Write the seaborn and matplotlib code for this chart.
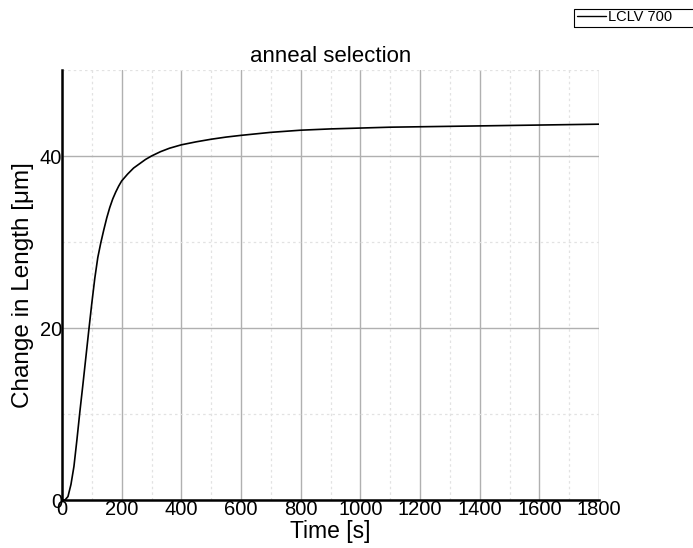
import matplotlib
matplotlib.use("Agg")
import matplotlib.pyplot as plt
import seaborn as sns
import pandas as pd
from matplotlib.ticker import MultipleLocator
from matplotlib.patches import Rectangle

time_s = [0, 10, 20, 30, 40, 50, 60, 70, 80, 90, 100, 110, 120, 130, 140, 150,
          160, 170, 180, 190, 200, 220, 240, 260, 280, 300, 330, 360, 400, 450,
          500, 550, 600, 700, 800, 900, 1000, 1100, 1200, 1300, 1400, 1500,
          1600, 1700, 1800]
length_um = [0, 0, 0.4, 1.8, 3.9, 7.0, 10.3, 13.4, 16.6, 19.8, 22.9, 25.8, 28.2,
             29.9, 31.4, 32.8, 34.0, 35.0, 35.8, 36.5, 37.1, 37.9, 38.6, 39.1,
             39.6, 40.0, 40.5, 40.9, 41.3, 41.65, 41.95, 42.2, 42.4, 42.75, 43.0,
             43.15, 43.25, 43.35, 43.4, 43.45, 43.5, 43.55, 43.6, 43.65, 43.7]
series_name = "LCLV 700"
title = "anneal selection"
xlabel = "Time [s]"
ylabel = "Change in Length [\u03bcm]"

sns.set_style("white")
plt.rcParams['font.family'] = ['Liberation Sans', 'DejaVu Sans']
plt.rcParams['text.color'] = 'black'
plt.rcParams['axes.labelcolor'] = 'black'

df = pd.DataFrame({"t": time_s, "v": length_um, "s": series_name})

fig = plt.figure(figsize=(6.93, 5.48), dpi=100)
ax = fig.add_axes([62/693, 1-500/548, (599-62)/693, (500-70)/548])
sns.lineplot(data=df, x="t", y="v", ax=ax, color="black", linewidth=1.2,
             legend=False, label=series_name)

ax.set_xlim(0, 1800)
ax.set_ylim(0, 50)
ax.xaxis.set_major_locator(MultipleLocator(200))
ax.xaxis.set_minor_locator(MultipleLocator(100))
ax.yaxis.set_major_locator(MultipleLocator(20))
ax.yaxis.set_minor_locator(MultipleLocator(10))
ax.grid(which="major", color="#b0b0b0", linewidth=1.0, linestyle="-")
ax.grid(which="minor", color="#e2e2e2", linewidth=0.9, linestyle=(0, (2, 2.5)))
ax.set_axisbelow(True)

for s in ["top", "right"]:
    ax.spines[s].set_visible(False)
for s in ["left", "bottom"]:
    ax.spines[s].set_color("black")
    ax.spines[s].set_linewidth(1.8)

ax.tick_params(axis="both", which="both", length=0, labelsize=14.5, pad=0,
               colors="black", labelcolor="black")
ax.set_title(title, fontsize=16, pad=6, color="black")
ax.set_xlabel(xlabel, fontsize=16.5, labelpad=1, color="black")
ax.set_ylabel(ylabel, fontsize=17.5, labelpad=4, color="black")

handles, labels = ax.get_legend_handles_labels()
leg = fig.legend(handles, labels, loc="upper left",
                 bbox_to_anchor=(574/693, 1-7/548), fontsize=10.5,
                 frameon=False, handlelength=2.0,
                 handletextpad=0.15, borderpad=0.2, borderaxespad=0,
                 labelcolor="black")
for h in leg.legend_handles:
    h.set_linewidth(1.0)
fig.patches.append(Rectangle((574/693, 1-27/548), 130/693, 18/548,
                             transform=fig.transFigure, fill=False,
                             edgecolor="black", linewidth=0.8))

fig.savefig("out.png", dpi=100)
